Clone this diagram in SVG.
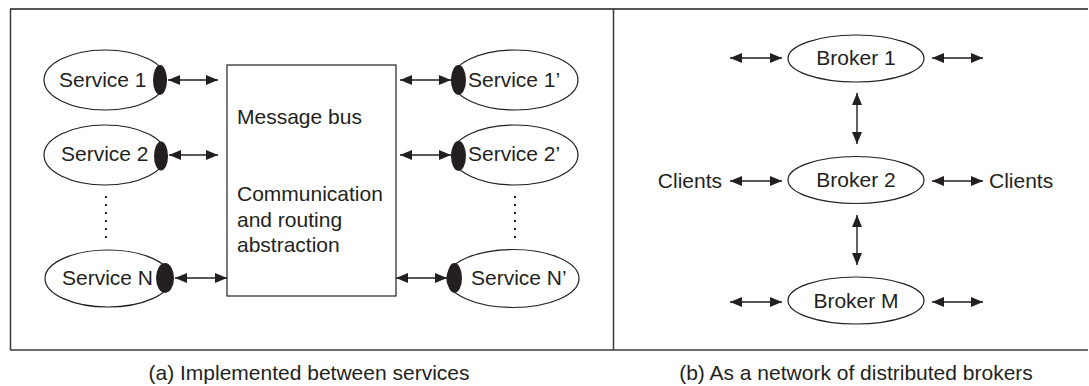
<svg xmlns="http://www.w3.org/2000/svg" width="1089" height="386" viewBox="0 0 1089 386">
<defs>
<marker id="ah" viewBox="0 0 12 12" refX="12" refY="6" markerWidth="12" markerHeight="12" markerUnits="userSpaceOnUse" orient="auto-start-reverse">
<path d="M0,1 L12,6 L0,11 Z" fill="#231f20"/>
</marker>
<style>
text{font-family:"Liberation Sans",Arial,sans-serif;font-size:21px;fill:#231f20}
.ell{fill:#fff;stroke:#231f20;stroke-width:1.2}
.port{fill:#231f20;stroke:none}
.box{fill:#fff;stroke:#231f20;stroke-width:1.2}
.con{stroke:#231f20;stroke-width:1.4;fill:none;marker-start:url(#ah);marker-end:url(#ah)}
.dots{stroke:#231f20;stroke-width:2;stroke-dasharray:2 6;fill:none}
.frame{stroke:#3a3a3a;stroke-width:1.5;fill:none}
.mid{text-anchor:middle}
</style>
</defs>
<g id="frame">
<line x1="10" y1="9" x2="1088" y2="9" stroke="#555" stroke-width="2.2"/>
<line x1="10" y1="350" x2="1088" y2="350" class="frame"/>
<line x1="10.5" y1="9" x2="10.5" y2="350" class="frame"/>
<line x1="613.5" y1="9" x2="613.5" y2="350" class="frame"/>
</g>
<g id="bus">
<rect class="box" x="227" y="65" width="169" height="231"/>
<text x="237" y="124">Message bus</text>
<text x="237" y="201">Communication</text>
<text x="237" y="227">and routing</text>
<text x="237" y="252">abstraction</text>
</g>
<g id="service1">
<ellipse class="ell" cx="105" cy="80" rx="61" ry="30"/>
<ellipse class="port" cx="160" cy="80" rx="7" ry="15"/>
<text x="59" y="87">Service 1</text>
</g>
<g id="service2">
<ellipse class="ell" cx="105" cy="155" rx="61" ry="30"/>
<ellipse class="port" cx="161" cy="156" rx="7" ry="14.5"/>
<text x="61" y="161">Service 2</text>
</g>
<g id="serviceN">
<ellipse class="ell" cx="108" cy="278.5" rx="63" ry="28.5"/>
<ellipse class="port" cx="165" cy="278" rx="9" ry="15"/>
<text x="62" y="285">Service N</text>
</g>
<g id="service1p">
<ellipse class="ell" cx="515" cy="80" rx="63" ry="30"/>
<ellipse class="port" cx="458.5" cy="80" rx="7.5" ry="15"/>
<text x="468" y="87">Service 1’</text>
</g>
<g id="service2p">
<ellipse class="ell" cx="515" cy="155" rx="63" ry="30"/>
<ellipse class="port" cx="458.5" cy="156" rx="7.5" ry="15"/>
<text x="468" y="161">Service 2’</text>
</g>
<g id="serviceNp">
<ellipse class="ell" cx="513" cy="278.5" rx="66" ry="29"/>
<ellipse class="port" cx="454.5" cy="278" rx="7.5" ry="15"/>
<text x="471" y="285">Service N’</text>
</g>
<g id="broker1">
<ellipse class="ell" cx="856" cy="58.5" rx="68" ry="23.5"/>
<text class="mid" x="856" y="65">Broker 1</text>
</g>
<g id="broker2">
<ellipse class="ell" cx="856" cy="180" rx="68" ry="23.5"/>
<text class="mid" x="856" y="187">Broker 2</text>
</g>
<g id="brokerM">
<ellipse class="ell" cx="856" cy="300.5" rx="68" ry="23.5"/>
<text class="mid" x="856" y="308">Broker M</text>
</g>
<g id="clientsL"><text x="722" y="188" text-anchor="end">Clients</text></g>
<g id="clientsR"><text x="989" y="188">Clients</text></g>
<g id="connectors">
<line class="con" x1="168" y1="80" x2="218" y2="80"/>
<line class="con" x1="169" y1="155" x2="218" y2="155"/>
<line class="con" x1="175" y1="278" x2="227" y2="278"/>
<line class="con" x1="400" y1="80" x2="451" y2="80"/>
<line class="con" x1="400" y1="155" x2="451" y2="155"/>
<line class="con" x1="396" y1="278" x2="447" y2="278"/>
<line class="dots" x1="106" y1="196" x2="106" y2="244"/>
<line class="dots" x1="515" y1="196" x2="515" y2="244"/>
<line class="con" x1="730" y1="58" x2="782" y2="58"/>
<line class="con" x1="932" y1="58" x2="983" y2="58"/>
<line class="con" x1="730" y1="181" x2="782" y2="181"/>
<line class="con" x1="932" y1="181" x2="983" y2="181"/>
<line class="con" x1="730" y1="302" x2="782" y2="302"/>
<line class="con" x1="932" y1="302" x2="983" y2="302"/>
<line class="con" x1="857" y1="93" x2="857" y2="144"/>
<line class="con" x1="857" y1="215" x2="857" y2="265"/>
</g>
<g id="captions">
<text class="mid" x="309" y="380">(a) Implemented between services</text>
<text class="mid" x="856" y="380">(b) As a network of distributed brokers</text>
</g>
</svg>
